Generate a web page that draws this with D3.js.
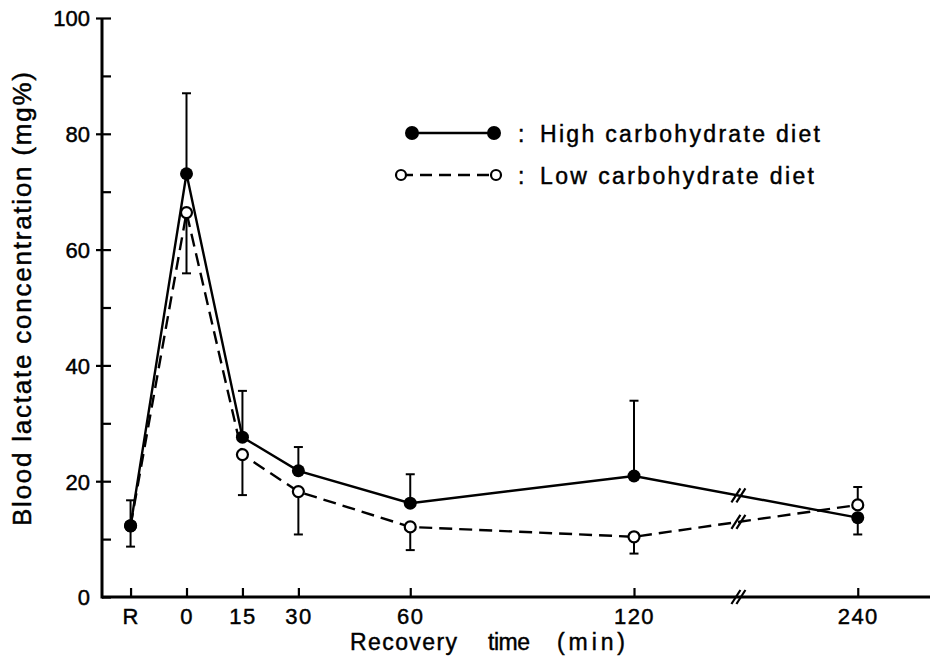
<!DOCTYPE html>
<html>
<head>
<meta charset="utf-8">
<script src="https://cdn.jsdelivr.net/npm/d3@7"></script>
<style>
  html, body { margin: 0; padding: 0; background: #fff; }
  svg { display: block; }
  text { font-family: "Liberation Sans", Arial, sans-serif; fill: #000; stroke: #000; stroke-width: 0.45px; }
</style>
</head>
<body>
<svg id="chart" width="930" height="668"></svg>
<script>
// ---- data ----
const categories = ["R", "0", "15", "30", "60", "120", "240"];
// position of each category on the time axis in minutes (240 sits after the axis break)
const axisMinutes = [-15, 0, 15, 30, 60, 120, 180];
const breakMinute = 148;
const highMean = [12.3, 73.1, 27.6, 21.8, 16.2, 20.9, 13.7];
const highErrEnd = [16.7, 87.0, 35.6, 25.9, 21.2, 33.9, 10.8];
const lowMean = [12.3, 66.4, 24.6, 18.2, 12.1, 10.4, 15.9];
const lowErrEnd = [8.7, 55.9, 17.6, 10.8, 8.1, 7.5, 19.0];
const yTickValues = [0, 10, 20, 30, 40, 50, 60, 70, 80, 90, 100];
const yLabelValues = [0, 20, 40, 60, 80, 100];
const legendLabels = ["High carbohydrate diet", "Low carbohydrate diet"];
const xTitleWords = ["Recovery", "time", "(min)"];
const yTitle = "Blood lactate concentration (mg%)";

// ---- scales ----
const svg = d3.select("#chart");
const x = d3.scaleLinear().domain([0, 120]).range([186.5, 634]);
const y = d3.scaleLinear().domain([0, 100]).range([597, 18]);
const axisX0 = 102, axisXEnd = 930;

// ---- axes ----
const axes = svg.append("g");
axes.append("line").attr("x1", axisX0).attr("x2", axisX0)
  .attr("y1", y(0) + 1.5).attr("y2", y(100))
  .attr("stroke", "#000").attr("stroke-width", 3);
axes.append("line").attr("x1", axisX0).attr("x2", axisXEnd)
  .attr("y1", y(0)).attr("y2", y(0))
  .attr("stroke", "#000").attr("stroke-width", 3);

const yAxis = d3.axisLeft(y).tickValues(yTickValues).tickSize(-9).tickPadding(12)
  .tickFormat(d => yLabelValues.includes(d) ? d : "");
const gy = axes.append("g").attr("transform", `translate(${axisX0},0)`).call(yAxis);
gy.select(".domain").remove();
gy.selectAll(".tick line").attr("stroke", "#000").attr("stroke-width", 2.2);
gy.selectAll(".tick text").style("font-size", "22px").attr("dy", "0.36em");
gy.selectAll(".tick").filter(d => yLabelValues.includes(d) && d !== 0)
  .append("line").attr("x1", -6).attr("x2", 0).attr("stroke", "#000").attr("stroke-width", 2.2);

const xAxis = d3.axisBottom(x).tickValues(axisMinutes).tickSize(-9).tickPadding(11)
  .tickFormat((d, i) => categories[i]);
const gx = axes.append("g").attr("transform", `translate(0,${y(0)})`).call(xAxis);
gx.select(".domain").remove();
gx.selectAll(".tick line").attr("stroke", "#000").attr("stroke-width", 2.2);
gx.selectAll(".tick text").style("font-size", "22px").style("letter-spacing", "1.5px");

function breakMark(g, cx, cy) {
  [-2.5, 2.5].forEach(off => {
    g.append("line")
      .attr("x1", cx + off - 4.5).attr("y1", cy + 7)
      .attr("x2", cx + off + 4.5).attr("y2", cy - 7)
      .attr("stroke", "#000").attr("stroke-width", 2.2);
  });
}
breakMark(axes, x(breakMinute), y(0));

// axis titles
const xTitleStarts = [350, 488, 557];
const xTitleLengths = [107, 42, 68];
xTitleWords.forEach((w, i) => {
  svg.append("text")
    .attr("x", xTitleStarts[i]).attr("y", 650)
    .attr("textLength", xTitleLengths[i]).attr("lengthAdjust", "spacing")
    .style("font-size", "23px")
    .text(w);
});
svg.append("text")
  .attr("transform", "translate(31,299) rotate(-90)")
  .attr("text-anchor", "middle")
  .attr("textLength", 454).attr("lengthAdjust", "spacing")
  .style("font-size", "26px")
  .text(yTitle);

// ---- series ----
function drawSeries(mean, errEnd, dashed, filled) {
  const g = svg.append("g");
  const pts = mean.map((v, i) => [x(axisMinutes[i]), y(v)]);
  mean.forEach((v, i) => {
    const cx = x(axisMinutes[i]);
    g.append("line").attr("x1", cx).attr("x2", cx)
      .attr("y1", y(v)).attr("y2", y(errEnd[i]))
      .attr("stroke", "#000").attr("stroke-width", 2);
    g.append("line").attr("x1", cx - 4.5).attr("x2", cx + 4.5)
      .attr("y1", y(errEnd[i])).attr("y2", y(errEnd[i]))
      .attr("stroke", "#000").attr("stroke-width", 2);
  });
  g.append("path")
    .attr("d", d3.line()(pts))
    .attr("fill", "none").attr("stroke", "#000").attr("stroke-width", 2.4)
    .attr("stroke-dasharray", dashed ? "13,7" : null);
  const n = mean.length;
  const t = (breakMinute - axisMinutes[n - 2]) / (axisMinutes[n - 1] - axisMinutes[n - 2]);
  const bv = mean[n - 2] + t * (mean[n - 1] - mean[n - 2]);
  breakMark(g, x(breakMinute), y(bv));
  g.selectAll("circle").data(pts).join("circle")
    .attr("cx", d => d[0]).attr("cy", d => d[1])
    .attr("r", filled ? 6.5 : 5.5)
    .attr("fill", filled ? "#000" : "#fff")
    .attr("stroke", "#000").attr("stroke-width", filled ? 0 : 2.2);
}
drawSeries(lowMean, lowErrEnd, true, false);
drawSeries(highMean, highErrEnd, false, true);

// ---- legend ----
const lg = svg.append("g");
const legendRows = [
  { y: 133, x1: 412, x2: 494, dashed: false, filled: true },
  { y: 175, x1: 401, x2: 496, dashed: true, filled: false }
];
legendRows.forEach((r, i) => {
  lg.append("line").attr("x1", r.x1).attr("x2", r.x2).attr("y1", r.y).attr("y2", r.y)
    .attr("stroke", "#000").attr("stroke-width", 2.4)
    .attr("stroke-dasharray", r.dashed ? "12,7" : null);
  [r.x1, r.x2].forEach(cx => {
    lg.append("circle").attr("cx", cx).attr("cy", r.y)
      .attr("r", r.filled ? 7 : 5)
      .attr("fill", r.filled ? "#000" : "#fff")
      .attr("stroke", "#000").attr("stroke-width", r.filled ? 0 : 2.2);
  });
  lg.append("text").attr("x", 518).attr("y", r.y + 8.5)
    .style("font-size", "23px").text(":");
  lg.append("text").attr("x", 540).attr("y", r.y + 8.5)
    .attr("textLength", i === 0 ? 280 : 274).attr("lengthAdjust", "spacing")
    .style("font-size", "23px").text(legendLabels[i]);
});
</script>
</body>
</html>
